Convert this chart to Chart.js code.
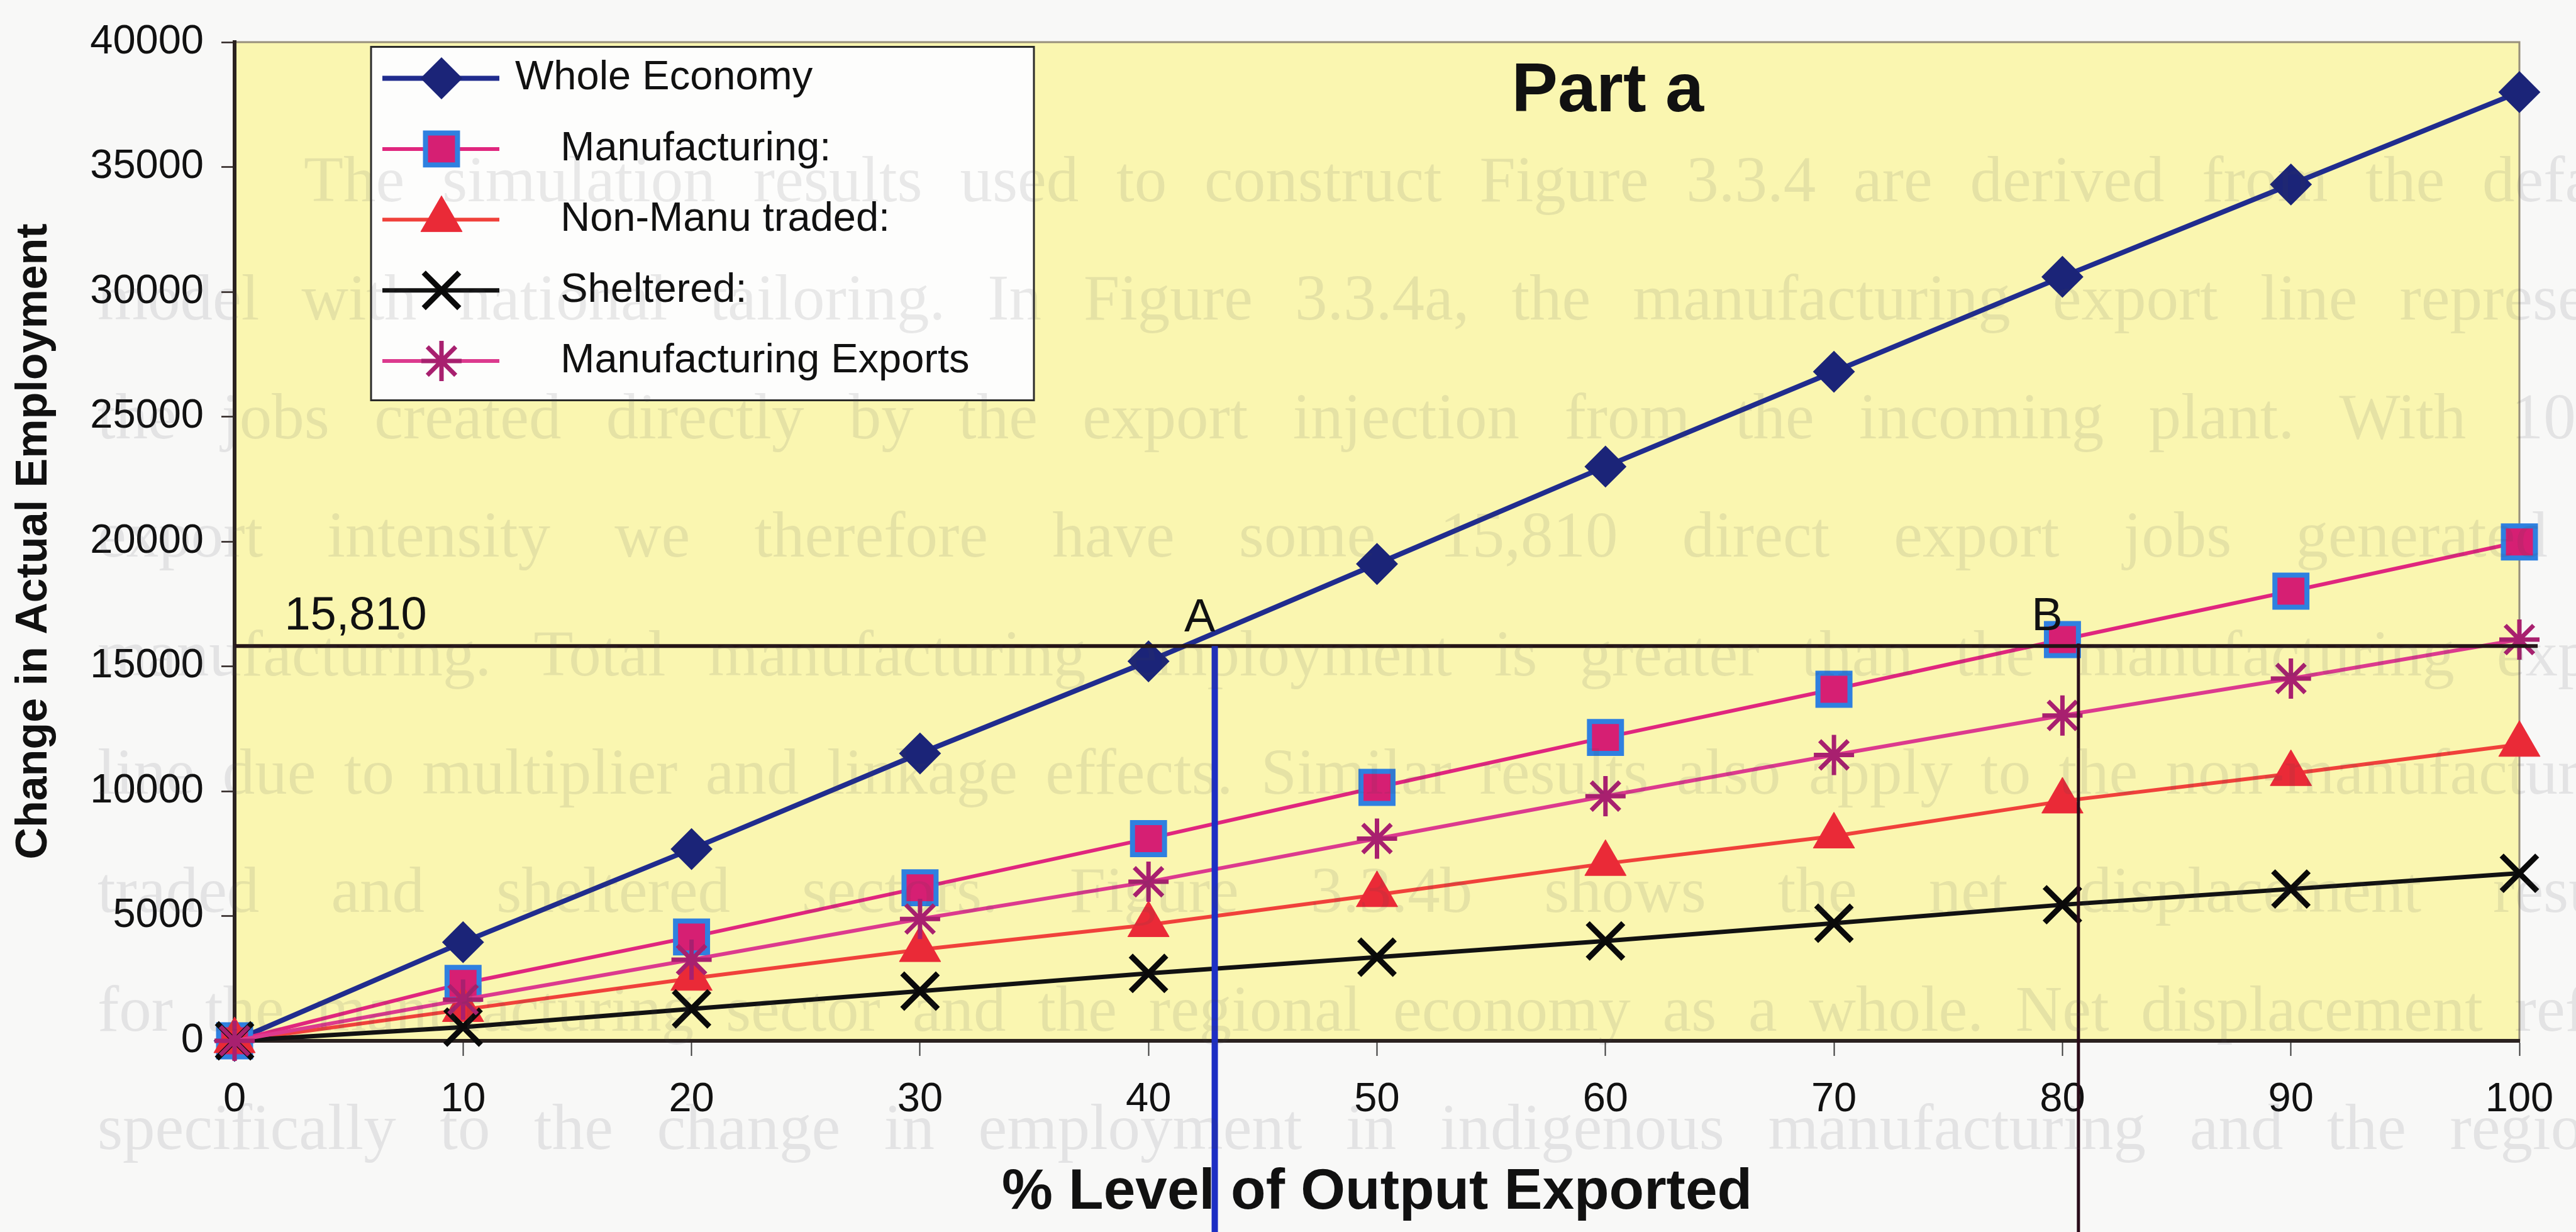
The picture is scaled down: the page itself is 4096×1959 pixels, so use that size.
<!DOCTYPE html>
<html lang="en">
<head>
<meta charset="utf-8">
<title>Part a - Change in Actual Employment</title>
<script src="https://cdn.jsdelivr.net/npm/chart.js@4.4.1/dist/chart.umd.min.js"></script>
<style>
  html, body { margin: 0; padding: 0; background: #f8f8f7; }
  #wrap { width: 4096px; height: 1959px; position: relative; }
</style>
</head>
<body>
<div id="wrap"><canvas id="chart"></canvas></div>
<script>
// % of plant output exported
const exportLevels = [0, 10, 20, 30, 40, 50, 60, 70, 80, 90, 100];

// change in actual employment by sector
const wholeEconomy         = [0, 3950, 7680, 11510, 15200, 19100, 23000, 26800, 30600, 34300, 38000];
const manufacturing        = [0, 2300, 4160, 6130, 8100, 10150, 12150, 14080, 16070, 18010, 19980];
const nonManuTraded        = [0, 1250, 2500, 3650, 4650, 5850, 7100, 8200, 9600, 10700, 11870];
const sheltered            = [0, 550, 1280, 1990, 2700, 3350, 4000, 4710, 5450, 6080, 6710];
const manufacturingExports = [0, 1650, 3250, 4880, 6370, 8100, 9800, 11450, 13030, 14510, 16070];

const seriesNames = ['Whole Economy', '    Manufacturing:', '    Non-Manu traded:', '    Sheltered:', '    Manufacturing Exports'];

// direct export jobs at 100% export intensity, and where the sectors reach it
const targetJobs = 15810;
const pointA = 42.9;
const pointB = 80.7;
const targetLineEnd = 100.8;

const yTicks = { min: 0, max: 40000, step: 5000 };
const xTicks = { min: 0, max: 100, step: 10 };

// text of the page behind the figure
const pageLines = [
  'The simulation results used to construct Figure 3.3.4 are derived from the default',
  'model with national tailoring. In Figure 3.3.4a, the manufacturing export line represents',
  'the jobs created directly by the export injection from the incoming plant. With 100%',
  'export intensity we therefore have some 15,810 direct export jobs generated in',
  'manufacturing. Total manufacturing employment is greater than the manufacturing export',
  'line due to multiplier and linkage effects. Similar results also apply to the non-manufacturing',
  'traded and sheltered sectors. Figure 3.3.4b shows the net displacement results',
  'for the manufacturing sector and the regional economy as a whole. Net displacement refers',
  'specifically to the change in employment in indigenous manufacturing and the regional'
];

const sansFont = '"Liberation Sans", Arial, Helvetica, sans-serif';
const serifFont = '"Liberation Serif", "Times New Roman", serif';

Chart.defaults.font.family = sansFont;
Chart.defaults.color = '#111';

function toPoints(values) {
  return exportLevels.map((x, i) => ({ x: x, y: values[i] }));
}

const datasets = [
  {
    label: seriesNames[0], data: toPoints(wholeEconomy),
    borderColor: '#202c8e', borderWidth: 8,
    pointStyle: 'rectRot', pointRadius: 32,
    pointBackgroundColor: '#1b2478', pointBorderColor: '#1b2478', pointBorderWidth: 2,
    order: 5
  },
  {
    label: seriesNames[1], data: toPoints(manufacturing),
    borderColor: '#e0267e', borderWidth: 6,
    pointStyle: 'rect', pointRadius: 36,
    pointBackgroundColor: '#d61f73', pointBorderColor: '#2f80e0', pointBorderWidth: 8,
    order: 4
  },
  {
    label: seriesNames[2], data: toPoints(nonManuTraded),
    borderColor: '#f0413b', borderWidth: 6,
    pointStyle: 'triangle', pointRadius: 38,
    pointBackgroundColor: '#ea2a37', pointBorderColor: '#ea2a37', pointBorderWidth: 1,
    order: 3
  },
  {
    label: seriesNames[3], data: toPoints(sheltered),
    borderColor: '#121212', borderWidth: 7,
    pointStyle: 'crossRot', pointRadius: 40,
    pointBackgroundColor: '#0a0a0a', pointBorderColor: '#0a0a0a', pointBorderWidth: 9,
    order: 2
  },
  {
    label: seriesNames[4], data: toPoints(manufacturingExports),
    borderColor: '#dc3a8e', borderWidth: 6,
    pointStyle: 'star', pointRadius: 32,
    pointBackgroundColor: '#a8206f', pointBorderColor: '#a8206f', pointBorderWidth: 7,
    order: 1
  }
];
datasets.forEach(ds => { ds.tension = 0; ds.clip = false; ds.fill = false; });

// yellow plot area with a thin grey frame
const plotBackground = {
  id: 'plotBackground',
  beforeDraw(chart) {
    const { ctx, chartArea: a } = chart;
    ctx.save();
    ctx.fillStyle = '#faf6b0';
    ctx.fillRect(a.left, a.top, a.right - a.left, a.bottom - a.top);
    ctx.strokeStyle = '#978f7b';
    ctx.lineWidth = 3;
    ctx.strokeRect(a.left, a.top, a.right - a.left, a.bottom - a.top);
    ctx.restore();
  }
};

// 15,810 target line with the A and B drop lines
const targetLines = {
  id: 'targetLines',
  afterDatasetsDraw(chart) {
    const { ctx, scales: { x, y } } = chart;
    const yT = y.getPixelForValue(targetJobs);
    const xa = x.getPixelForValue(pointA);
    const xb = x.getPixelForValue(pointB);
    ctx.save();
    ctx.lineCap = 'butt';
    ctx.strokeStyle = '#241416';
    ctx.lineWidth = 6;
    ctx.beginPath();
    ctx.moveTo(x.getPixelForValue(0), yT);
    ctx.lineTo(x.getPixelForValue(targetLineEnd), yT);
    ctx.stroke();

    ctx.strokeStyle = '#1d2fc4';
    ctx.lineWidth = 10;
    ctx.beginPath();
    ctx.moveTo(xa, yT);
    ctx.lineTo(xa, chart.height);
    ctx.stroke();

    ctx.strokeStyle = '#2a0c1a';
    ctx.lineWidth = 5;
    ctx.beginPath();
    ctx.moveTo(xb, yT - 4);
    ctx.lineTo(xb, chart.height);
    ctx.stroke();

    ctx.fillStyle = '#111';
    ctx.font = '74px ' + sansFont;
    ctx.textAlign = 'center';
    ctx.textBaseline = 'middle';
    ctx.fillText(targetJobs.toLocaleString('en-US'), x.getPixelForValue(5.3), yT - 47);
    ctx.fillText('A', xa - 24, yT - 44);
    ctx.fillText('B', xb - 50, yT - 46);
    ctx.restore();
  }
};

// boxed legend drawn inside the plot, line sample + marker per series
const legendBox = {
  id: 'legendBox',
  afterDatasetsDraw(chart) {
    const { ctx, chartArea: a } = chart;
    const x0 = a.left + 217, y0 = a.top + 7.5, w = 1054, h = 562;
    ctx.save();
    ctx.fillStyle = '#fdfdfc';
    ctx.fillRect(x0, y0, w, h);
    ctx.strokeStyle = '#2a2a2a';
    ctx.lineWidth = 3;
    ctx.strokeRect(x0, y0, w, h);
    ctx.font = '65px ' + sansFont;
    ctx.textBaseline = 'middle';
    ctx.textAlign = 'left';
    chart.data.datasets.forEach((ds, i) => {
      const ly = y0 + 50 + i * 112.4;
      ctx.strokeStyle = ds.borderColor;
      ctx.lineWidth = ds.borderWidth;
      ctx.beginPath();
      ctx.moveTo(x0 + 18, ly);
      ctx.lineTo(x0 + 204, ly);
      ctx.stroke();
      ctx.fillStyle = ds.pointBackgroundColor;
      ctx.strokeStyle = ds.pointBorderColor;
      ctx.lineWidth = ds.pointBorderWidth;
      Chart.helpers.drawPoint(ctx, {
        pointStyle: ds.pointStyle, radius: ds.pointRadius,
        borderWidth: ds.pointBorderWidth, rotation: 0
      }, x0 + 112, ly);
      ctx.fillStyle = '#111';
      ctx.fillText(ds.label, x0 + 229, ly);
    });
    ctx.restore();
  }
};

// "Part a" heading inside the plot area
const partHeading = {
  id: 'partHeading',
  afterDatasetsDraw(chart) {
    const { ctx, chartArea: a } = chart;
    ctx.save();
    ctx.fillStyle = '#111';
    ctx.font = 'bold 110px ' + sansFont;
    ctx.textAlign = 'center';
    ctx.textBaseline = 'middle';
    ctx.fillText('Part a', a.left + 0.601 * (a.right - a.left), a.top + 0.05 * (a.bottom - a.top));
    ctx.restore();
  }
};

// faint show-through of the page text, justified
const pageText = {
  id: 'pageText',
  afterDraw(chart) {
    const ctx = chart.ctx;
    const left = 155, right = 4233, top = 293, step = 188.4;
    ctx.save();
    ctx.fillStyle = 'rgba(70, 70, 80, 0.115)';
    ctx.font = '103px ' + serifFont;
    ctx.textBaseline = 'middle';
    ctx.textAlign = 'left';
    pageLines.forEach((line, i) => {
      const words = line.split(' ');
      const widths = words.map(wd => ctx.measureText(wd).width);
      const total = widths.reduce((s, v) => s + v, 0);
      const start = i === 0 ? 483 : left;
      const space = ctx.measureText(' ').width;
      let gap = (right - start - total) / (words.length - 1);
      if (gap < space) gap = space;
      let px = start;
      words.forEach((wd, k) => {
        ctx.fillText(wd, px, top + i * step);
        px += widths[k] + gap;
      });
    });
    ctx.restore();
  }
};

new Chart(document.getElementById('chart'), {
  type: 'line',
  data: { datasets: datasets },
  options: {
    responsive: true,
    maintainAspectRatio: false,
    animation: false,
    events: [],
    layout: { padding: { top: 50.5, right: 90, bottom: 0, left: 0 } },
    plugins: {
      legend: { display: false },
      tooltip: { enabled: false }
    },
    scales: {
      x: {
        type: 'linear',
        min: xTicks.min,
        max: xTicks.max,
        ticks: {
          stepSize: xTicks.step,
          autoSkip: false,
          maxRotation: 0,
          padding: 31,
          color: '#111',
          font: { size: 65 },
          callback: v => String(v)
        },
        grid: { drawOnChartArea: false, drawTicks: true, tickLength: 24, tickColor: '#3a3a3a', tickWidth: 2 },
        border: { display: true, color: '#2b2220', width: 6 },
        title: {
          display: true,
          text: '% Level of Output Exported',
          color: '#111',
          font: { size: 91, weight: 'bold' },
          padding: { top: 0, bottom: 7 }
        },
        afterFit(scale) { scale.height = 304; }
      },
      y: {
        type: 'linear',
        min: yTicks.min,
        max: yTicks.max,
        ticks: {
          stepSize: yTicks.step,
          padding: 28,
          color: '#111',
          font: { size: 65 },
          callback: v => String(v)
        },
        grid: { drawOnChartArea: false, drawTicks: true, tickLength: 21, tickColor: '#2b2220', tickWidth: 2.5 },
        border: { display: true, color: '#2b2220', width: 6 },
        title: {
          display: true,
          text: 'Change in Actual Employment',
          color: '#111',
          font: { size: 70, weight: 'bold' },
          padding: { top: 13, bottom: 0 }
        },
        afterFit(scale) { scale.width = 373; }
      }
    }
  },
  plugins: [plotBackground, targetLines, legendBox, partHeading, pageText]
});
</script>
</body>
</html>
